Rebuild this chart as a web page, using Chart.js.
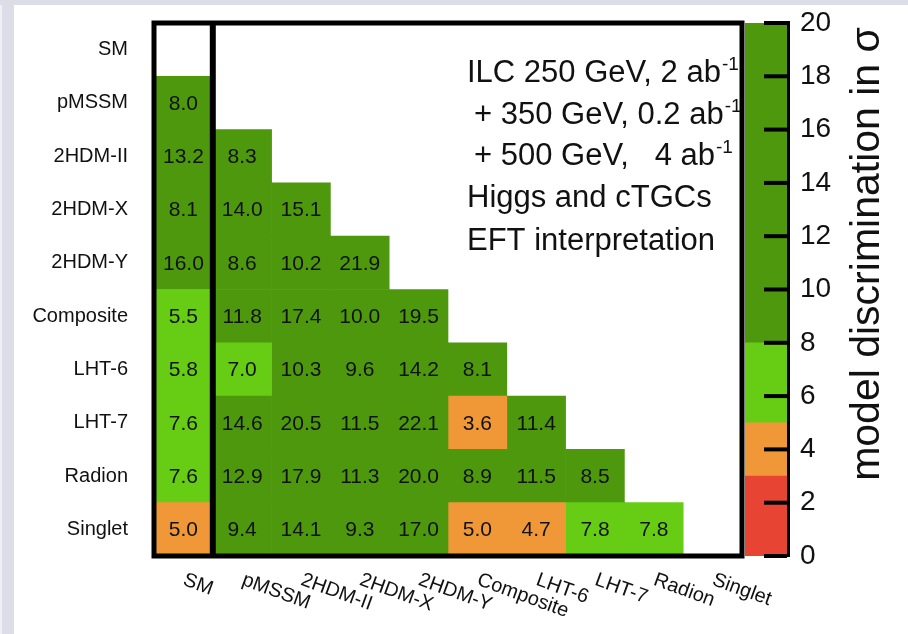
<!DOCTYPE html>
<html>
<head>
<meta charset="utf-8">
<script src="https://cdn.jsdelivr.net/npm/chart.js@4.4.1/dist/chart.umd.min.js"></script>
<style>
  html, body { margin: 0; padding: 0; }
  body { width: 908px; height: 634px; position: relative; overflow: hidden; background: #dcdde6; }
  #panel { position: absolute; left: 14px; top: 5px; right: 0; bottom: 0; background: #fff; }
  #edge { position: absolute; left: 0; top: 5px; width: 2px; bottom: 0; background: #eef0f6; }
  #heat { position: absolute; left: 0; top: 0; }
  #cbar { position: absolute; left: 745px; top: 0; }
</style>
</head>
<body>
<div id="panel"></div>
<div id="edge"></div>
<canvas id="heat" width="908" height="634"></canvas>
<canvas id="cbar" width="163" height="634"></canvas>
<script>
const models = ['SM', 'pMSSM', '2HDM-II', '2HDM-X', '2HDM-Y', 'Composite', 'LHT-6', 'LHT-7', 'Radion', 'Singlet'];

// discrimination (in sigma) of each model against the models listed before it
const smRow = [];
const pmssmRow = [8.0];
const thdmIIRow = [13.2, 8.3];
const thdmXRow = [8.1, 14.0, 15.1];
const thdmYRow = [16.0, 8.6, 10.2, 21.9];
const compositeRow = [5.5, 11.8, 17.4, 10.0, 19.5];
const lht6Row = [5.8, 7.0, 10.3, 9.6, 14.2, 8.1];
const lht7Row = [7.6, 14.6, 20.5, 11.5, 22.1, 3.6, 11.4];
const radionRow = [7.6, 12.9, 17.9, 11.3, 20.0, 8.9, 11.5, 8.5];
const singletRow = [5.0, 9.4, 14.1, 9.3, 17.0, 5.0, 4.7, 7.8, 7.8];

// colour bins of the scale
const binEdges = [0, 3, 5, 8, 20];
const binColors = ['#e84434', '#f09838', '#66cc14', '#4e980d'];
const scaleTicks = [0, 2, 4, 6, 8, 10, 12, 14, 16, 18, 20];
const scaleTitle = 'model discrimination in σ';

const rows = [smRow, pmssmRow, thdmIIRow, thdmXRow, thdmYRow, compositeRow, lht6Row, lht7Row, radionRow, singletRow];

Chart.defaults.font.family = '"Liberation Sans", Arial, sans-serif';
Chart.defaults.color = '#111';

function binColor(v) {
  if (v < binEdges[1]) return binColors[0];
  if (v <= binEdges[2]) return binColors[1];
  if (v < binEdges[3]) return binColors[2];
  return binColors[3];
}

// one floating-bar dataset per column of the matrix
const datasets = models.slice(0, -1).map((name, j) => ({
  label: name,
  data: models.map((_, i) => (i > j ? [j - 0.5, j + 0.5] : null)),
  backgroundColor: models.map((_, i) => (i > j ? binColor(rows[i][j]) : 'rgba(0,0,0,0)')),
  borderWidth: 0,
  grouped: false,
  barPercentage: 1,
  categoryPercentage: 1
}));

// numbers in the cells
const cellText = {
  id: 'cellText',
  afterDatasetsDraw(chart) {
    const ctx = chart.ctx;
    ctx.save();
    ctx.font = '21px "Liberation Sans", Arial, sans-serif';
    ctx.fillStyle = '#111';
    ctx.textAlign = 'center';
    ctx.textBaseline = 'middle';
    chart.data.datasets.forEach((ds, j) => {
      chart.getDatasetMeta(j).data.forEach((el, i) => {
        if (!ds.data[i]) return;
        const c = el.getCenterPoint();
        ctx.fillText(rows[i][j].toFixed(1), c.x, c.y + 1);
      });
    });
    ctx.restore();
  }
};

// thick frame and the line after the SM column
const frame = {
  id: 'frame',
  afterDraw(chart) {
    const {ctx, chartArea: a, scales: {x}} = chart;
    ctx.save();
    ctx.strokeStyle = '#000';
    ctx.lineWidth = 5;
    ctx.strokeRect(a.left, a.top, a.right - a.left, a.bottom - a.top);
    ctx.lineWidth = 6;
    const sx = x.getPixelForValue(0.5);
    ctx.beginPath();
    ctx.moveTo(sx, a.top);
    ctx.lineTo(sx, a.bottom);
    ctx.stroke();
    ctx.restore();
  }
};

// slanted column labels
const xLabels = {
  id: 'xLabels',
  afterDraw(chart) {
    const {ctx, scales: {x}} = chart;
    ctx.save();
    ctx.font = '20px "Liberation Sans", Arial, sans-serif';
    ctx.fillStyle = '#111';
    ctx.textAlign = 'left';
    ctx.textBaseline = 'top';
    models.forEach((m, j) => {
      ctx.save();
      ctx.translate(x.getPixelForValue(j) + 4, 570);
      ctx.rotate(20 * Math.PI / 180);
      ctx.fillText(m, 0, 0);
      ctx.restore();
    });
    ctx.restore();
  }
};

// run conditions text
const note = {
  id: 'note',
  afterDraw(chart) {
    const ctx = chart.ctx;
    const big = '31px "Liberation Sans", Arial, sans-serif';
    const small = '19px "Liberation Sans", Arial, sans-serif';
    ctx.save();
    ctx.fillStyle = '#111';
    ctx.textBaseline = 'alphabetic';
    ctx.textAlign = 'left';
    const lines = [
      [467, 82, 'ILC 250 GeV, 2 ab', true],
      [474, 123.5, '+ 350 GeV, 0.2 ab', true],
      [474, 165, '+ 500 GeV,   4 ab', true],
      [467, 207, 'Higgs and cTGCs', false],
      [467, 250, 'EFT interpretation', false]
    ];
    lines.forEach(([lx, ly, t, sup]) => {
      ctx.font = big;
      ctx.fillText(t, lx, ly);
      if (sup) {
        const w = ctx.measureText(t).width;
        ctx.font = small;
        ctx.fillText('-1', lx + w + 1, ly - 12);
      }
    });
    ctx.restore();
  }
};

new Chart(document.getElementById('heat'), {
  type: 'bar',
  data: { labels: models, datasets },
  options: {
    indexAxis: 'y',
    responsive: false,
    animation: false,
    events: [],
    layout: { padding: { top: 23, right: 166, bottom: 78, left: 0 } },
    plugins: { legend: { display: false }, tooltip: { enabled: false } },
    scales: {
      x: { type: 'linear', min: -0.5, max: 9.5, display: false },
      y: {
        type: 'category',
        offset: true,
        grid: { display: false, drawTicks: false },
        border: { display: false },
        ticks: { font: { size: 20 }, color: '#111', padding: 26 },
        afterFit(s) {
          s.width = 154;
          s.paddingTop = 0;
          s.paddingBottom = 0;
        }
      }
    }
  },
  plugins: [cellText, frame, xLabels, note]
});

// colour scale: inward ticks and rotated title
const scaleDecor = {
  id: 'scaleDecor',
  afterDraw(chart) {
    const {ctx, scales: {y}} = chart;
    ctx.save();
    ctx.strokeStyle = '#000';
    ctx.lineWidth = 4;
    scaleTicks.forEach(v => {
      const py = y.getPixelForValue(v);
      ctx.beginPath();
      ctx.moveTo(y.left - 23, py);
      ctx.lineTo(y.left, py);
      ctx.stroke();
    });
    ctx.fillStyle = '#111';
    ctx.font = '41px "Liberation Sans", Arial, sans-serif';
    ctx.textAlign = 'center';
    ctx.textBaseline = 'alphabetic';
    ctx.translate(134, 254);
    ctx.rotate(-Math.PI / 2);
    ctx.fillText(scaleTitle, 0, 0);
    ctx.restore();
  }
};

new Chart(document.getElementById('cbar'), {
  type: 'bar',
  data: {
    labels: ['scale'],
    datasets: binColors.map((c, k) => ({
      data: [[binEdges[k], binEdges[k + 1]]],
      backgroundColor: c,
      borderWidth: 0,
      grouped: false,
      barPercentage: 1,
      categoryPercentage: 1
    }))
  },
  options: {
    responsive: false,
    animation: false,
    events: [],
    layout: { padding: { top: 23, right: 0, bottom: 78, left: 0 } },
    plugins: { legend: { display: false }, tooltip: { enabled: false } },
    scales: {
      x: { display: false },
      y: {
        position: 'right',
        min: 0,
        max: 20,
        grid: { display: false, drawTicks: false },
        border: { display: true, color: '#000', width: 5 },
        ticks: {
          stepSize: 2,
          padding: 13,
          color: '#111',
          font: { size: 28 }
        },
        afterFit(s) {
          s.width = 121;
          s.paddingTop = 0;
          s.paddingBottom = 0;
        }
      }
    }
  },
  plugins: [scaleDecor]
});
</script>
</body>
</html>
